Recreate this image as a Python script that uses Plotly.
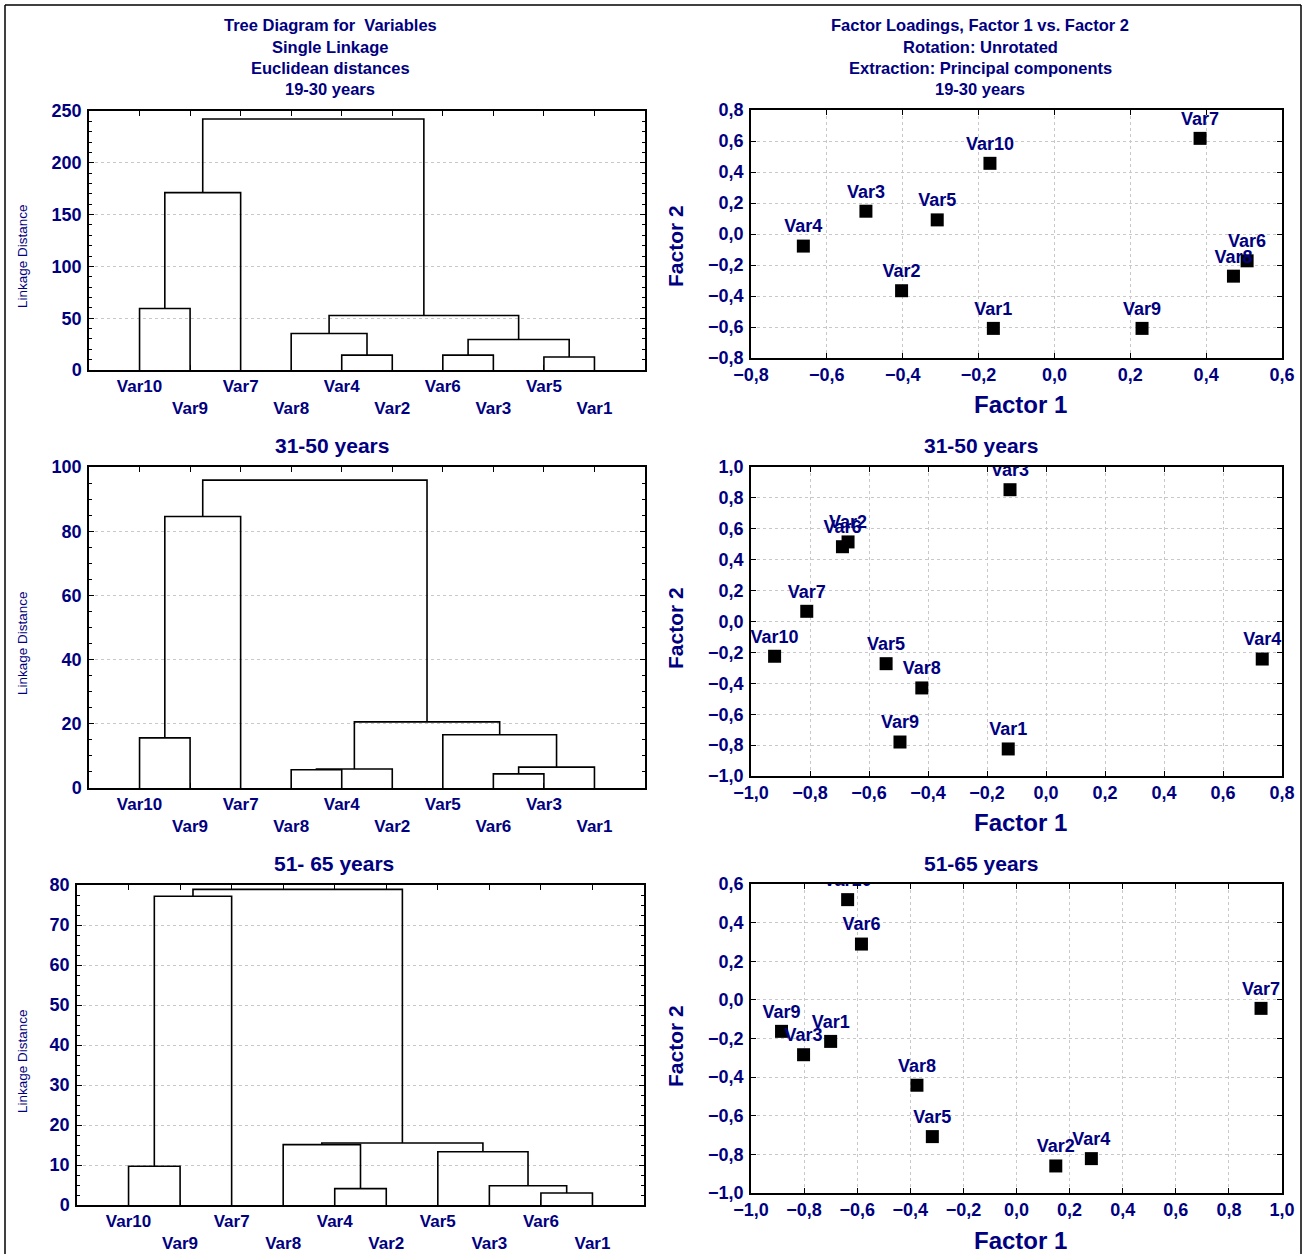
import plotly.graph_objects as go

W, H = 1307, 1254
NAVY = "#000080"
FONT = "Liberation Sans, Arial, sans-serif"

# ---------------- data ----------------
var_names = ["Var1", "Var2", "Var3", "Var4", "Var5", "Var6", "Var7", "Var8", "Var9", "Var10"]

# dendrograms (leaf order, merges: (left, right, linkage distance); ints refer to earlier merges)
leaves_1930 = ["Var10", "Var9", "Var7", "Var8", "Var4", "Var2", "Var6", "Var3", "Var5", "Var1"]
merges_1930 = [("Var10", "Var9", 59.3), (0, "Var7", 171.2), ("Var4", "Var2", 14.4),
               ("Var8", 2, 35.3), ("Var6", "Var3", 14.4), ("Var5", "Var1", 12.5),
               (4, 5, 29.5), (3, 6, 52.6), (1, 7, 242.3)]

leaves_3150 = ["Var10", "Var9", "Var7", "Var8", "Var4", "Var2", "Var5", "Var6", "Var3", "Var1"]
merges_3150 = [("Var10", "Var9", 15.6), (0, "Var7", 84.6), ("Var8", "Var4", 5.7),
               (2, "Var2", 5.9), ("Var6", "Var3", 4.4), (4, "Var1", 6.5),
               ("Var5", 5, 16.6), (3, 6, 20.6), (1, 7, 95.9)]

leaves_5165 = ["Var10", "Var9", "Var7", "Var8", "Var4", "Var2", "Var5", "Var3", "Var6", "Var1"]
merges_5165 = [("Var10", "Var9", 9.7), (0, "Var7", 77.2), ("Var4", "Var2", 4.1),
               ("Var8", 2, 15.1), ("Var6", "Var1", 3.0), ("Var3", 4, 4.8),
               ("Var5", 5, 13.3), (3, 6, 15.5), (1, 7, 78.9)]

# factor loadings (Var1..Var10)
f1_1930 = [-0.161, -0.403, -0.497, -0.662, -0.309, 0.508, 0.384, 0.472, 0.231, -0.170]
f2_1930 = [-0.609, -0.366, 0.147, -0.078, 0.091, -0.173, 0.617, -0.272, -0.609, 0.456]

f1_3150 = [-0.128, -0.671, -0.122, 0.733, -0.542, -0.690, -0.811, -0.421, -0.495, -0.920]
f2_3150 = [-0.825, 0.515, 0.853, -0.243, -0.273, 0.484, 0.066, -0.430, -0.780, -0.225]

f1_5165 = [-0.700, 0.148, -0.802, 0.282, -0.317, -0.584, 0.921, -0.375, -0.885, -0.636]
f2_5165 = [-0.215, -0.860, -0.284, -0.822, -0.708, 0.289, -0.044, -0.442, -0.163, 0.519]

# ---------------- helpers ----------------
def px_x(v):
    return v / W


def px_y(v):
    return 1 - v / H


def dendro_lines(leaves, merges):
    pos = {name: (i + 1, 0.0) for i, name in enumerate(leaves)}
    nodes = []
    xs, ys = [], []

    def node(ref):
        return nodes[ref] if isinstance(ref, int) else pos[ref]

    for a, b, h in merges:
        xa, ha = node(a)
        xb, hb = node(b)
        xs += [xa, xa, xb, xb, None]
        ys += [ha, h, h, hb, None]
        nodes.append(((xa + xb) / 2, h))
    return xs, ys


fig = go.Figure()

panels = [
    # (leaves, merges, yrange, dtick, minor, xdom px, ydom px)
    (leaves_1930, merges_1930, 250, 50, 10, (89, 645), (111, 370)),
    (leaves_3150, merges_3150, 100, 20, 5, (89, 645), (467, 788)),
    (leaves_5165, merges_5165, 80, 10, 2.5, (77, 644), (885, 1205)),
]
scatters = [
    (f1_1930, f2_1930, (-0.8, 0.6), (-0.8, 0.8), (751, 1282), (110, 358)),
    (f1_3150, f2_3150, (-1.0, 0.8), (-1.0, 1.0), (751, 1282), (467, 776)),
    (f1_5165, f2_5165, (-1.0, 1.0), (-1.0, 0.6), (751, 1282), (884, 1193)),
]

tickfont = dict(family=FONT, size=18, color=NAVY, weight="bold")
leaffont = dict(family=FONT, size=17, color=NAVY, weight="bold")
layout_axes = {}
axis_id = 1
for row in range(3):
    leaves, merges, ymax, dt, mdt, xd, yd = panels[row]
    xs, ys = dendro_lines(leaves, merges)
    xa = "x" if axis_id == 1 else f"x{axis_id}"
    ya = "y" if axis_id == 1 else f"y{axis_id}"
    fig.add_trace(go.Scatter(x=xs, y=ys, mode="lines", xaxis=xa, yaxis=ya,
                             line=dict(color="black", width=1.6), hoverinfo="skip",
                             showlegend=False, cliponaxis=False))
    ticktext = [name if i % 2 == 0 else "<br>" + name for i, name in enumerate(leaves)]
    sfx = "" if axis_id == 1 else str(axis_id)
    layout_axes["xaxis" + sfx] = dict(
        domain=[px_x(xd[0]), px_x(xd[1])], anchor=ya, range=[0, 11], automargin=False,
        tickvals=list(range(1, 11)), ticktext=ticktext, tickfont=leaffont,
        showgrid=False, zeroline=False, showline=True, linecolor="black", linewidth=1.5,
        mirror="ticks", ticks="inside", ticklen=5, tickcolor="black", tickwidth=1)
    layout_axes["yaxis" + sfx] = dict(
        domain=[px_y(yd[1]), px_y(yd[0])], anchor=xa, range=[0, ymax], dtick=dt, automargin=False,
        tickfont=tickfont, showgrid=True, gridcolor="#c8c8c8", griddash="dot", gridwidth=1,
        zeroline=False, showline=True, linecolor="black", linewidth=1.5, mirror="ticks",
        ticks="inside", ticklen=5, tickcolor="black", tickwidth=1, ticklabelstandoff=2,
        minor=dict(dtick=mdt, ticks="inside", ticklen=3, tickcolor="black", showgrid=False))
    axis_id += 1

    f1, f2, xr, yr, xd, yd = scatters[row]
    xa = f"x{axis_id}"
    ya = f"y{axis_id}"
    fig.add_trace(go.Scatter(x=f1, y=f2, mode="markers+text", text=var_names,
                             textposition="top center", xaxis=xa, yaxis=ya,
                             textfont=dict(family=FONT, size=18, color=NAVY, weight="bold"),
                             marker=dict(symbol="square", size=13, color="black"),
                             hoverinfo="skip", showlegend=False))
    sfx = str(axis_id)
    common = dict(tickfont=tickfont, showgrid=True, gridcolor="#c8c8c8", griddash="dot",
                  gridwidth=1, zeroline=False, showline=True, linecolor="black",
                  linewidth=1.5, mirror="ticks", ticks="inside", ticklen=5, automargin=False,
                  tickcolor="black", tickwidth=1, tickformat=".1f", dtick=0.2)
    layout_axes["xaxis" + sfx] = dict(domain=[px_x(xd[0]), px_x(xd[1])], anchor=ya,
                                      range=list(xr), tick0=xr[0], **common)
    layout_axes["yaxis" + sfx] = dict(domain=[px_y(yd[1]), px_y(yd[0])], anchor=xa,
                                      range=list(yr), tick0=yr[0], ticklabelstandoff=2, **common)
    axis_id += 1

annotations = []


def ann(text, x, y, size, bold=True, angle=0):
    annotations.append(dict(text=text, x=px_x(x), y=px_y(y), xref="paper", yref="paper",
                            showarrow=False, xanchor="center", yanchor="middle",
                            textangle=angle,
                            font=dict(family=FONT, size=size, color=NAVY,
                                      weight="bold" if bold else "normal")))


left_title = ["Tree Diagram for  Variables", "Single Linkage", "Euclidean distances", "19-30 years"]
right_title = ["Factor Loadings, Factor 1 vs. Factor 2", "Rotation: Unrotated",
               "Extraction: Principal components", "19-30 years"]
for i, yy in enumerate([25, 47, 68, 89]):
    ann(left_title[i], 330, yy, 16.5)
    ann(right_title[i], 980, yy, 16.5)
ann("31-50 years", 332, 445, 21)
ann("31-50 years", 981, 445, 21)
ann("51- 65 years", 334, 863, 21)
ann("51-65 years", 981, 863, 21)

for yy in [256, 643, 1061]:
    ann("Linkage Distance", 22, yy, 13.5, bold=False, angle=-90)
for yy in [246, 628, 1046]:
    ann("Factor 2", 675, yy, 21, angle=-90)
for yy in [404, 822, 1240]:
    ann("Factor 1", 1020, yy, 24)

shapes = [
    dict(type="line", xref="paper", yref="paper", x0=px_x(5), x1=px_x(1301), y0=px_y(5), y1=px_y(5),
         line=dict(color="black", width=1.5)),
    dict(type="line", xref="paper", yref="paper", x0=px_x(5), x1=px_x(5), y0=px_y(5), y1=0,
         line=dict(color="black", width=1.5)),
    dict(type="line", xref="paper", yref="paper", x0=px_x(1301), x1=px_x(1301), y0=px_y(5), y1=0,
         line=dict(color="black", width=1.5)),
]

fig.update_layout(template="none", width=W, height=H, margin=dict(l=0, r=0, t=0, b=0, pad=0),
                  paper_bgcolor="white", plot_bgcolor="white", separators=", ",
                  annotations=annotations, shapes=shapes, showlegend=False,
                  font=dict(family=FONT, color=NAVY), **layout_axes)

fig.write_html("out.html", config={"displayModeBar": False},
               post_script="document.body.style.margin='0';document.body.style.overflow='hidden';")
